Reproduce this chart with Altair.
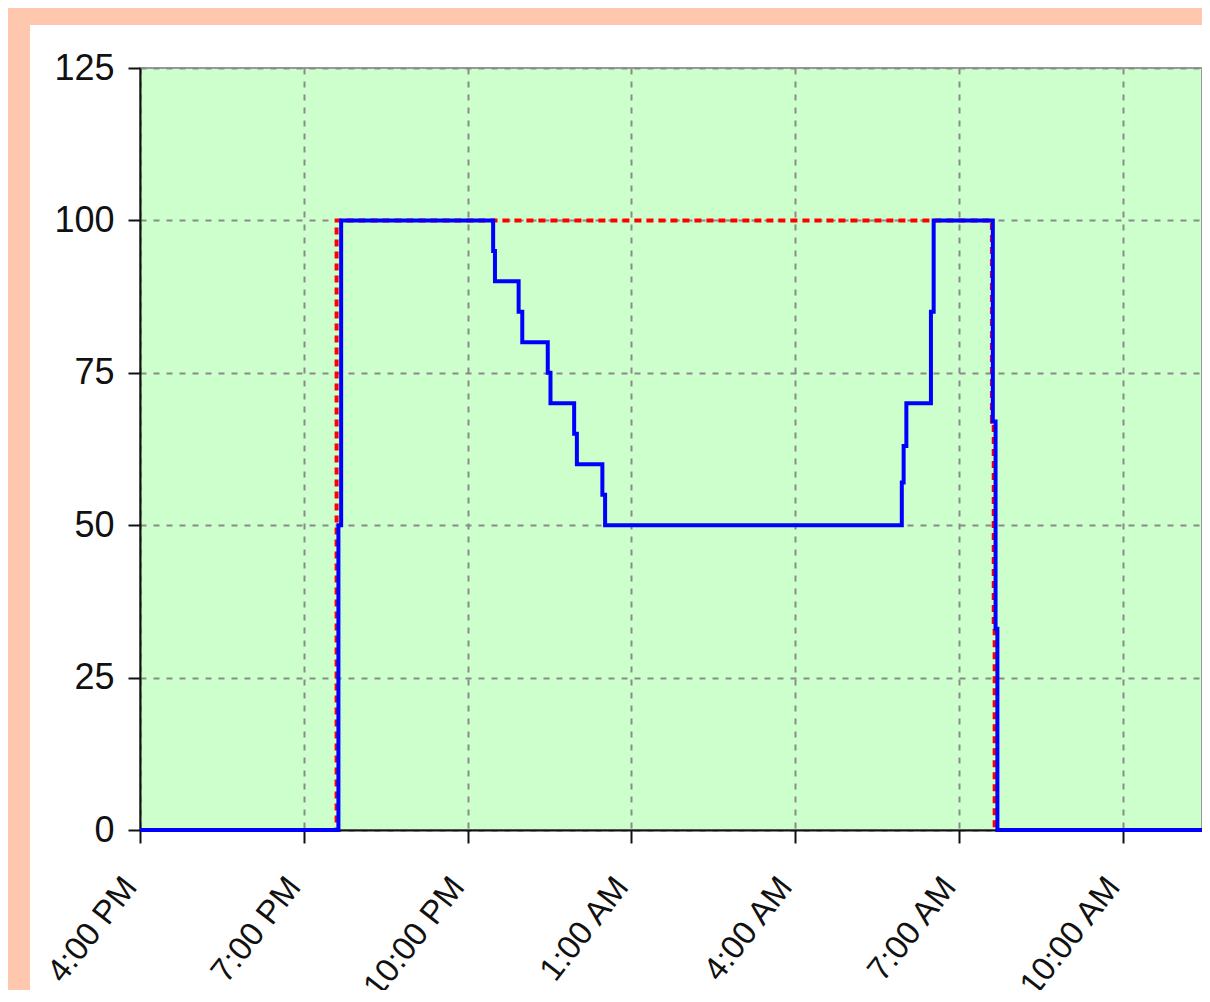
import altair as alt
import pandas as pd

# ---- data ----
blue_times = [
    "2024-01-01T16:00:00", "2024-01-01T19:38:00", "2024-01-01T19:41:00",
    "2024-01-01T22:28:00", "2024-01-01T22:30:00", "2024-01-01T22:56:00",
    "2024-01-01T23:00:00", "2024-01-01T23:28:00", "2024-01-01T23:31:00",
    "2024-01-01T23:57:00", "2024-01-02T00:00:00", "2024-01-02T00:28:00",
    "2024-01-02T00:31:00", "2024-01-02T05:57:00", "2024-01-02T05:59:00",
    "2024-01-02T06:02:00", "2024-01-02T06:29:00", "2024-01-02T06:32:00",
    "2024-01-02T07:37:00", "2024-01-02T07:40:00", "2024-01-02T07:42:00",
    "2024-01-02T11:26:49",
]
blue_values = [0, 50, 100, 95, 90, 85, 80, 75, 70, 65, 60, 55, 50,
               57, 63, 70, 85, 100, 67, 33, 0, 0]

red_times = [
    "2024-01-01T16:00:00", "2024-01-01T19:36:00", "2024-01-02T07:36:00",
    "2024-01-02T07:38:00", "2024-01-02T07:39:00", "2024-01-02T11:26:49",
]
red_values = [0, 100, 67, 33, 0, 0]

y_ticks = [0, 25, 50, 75, 100, 125]
x_tick_hours = [(1, 16), (1, 19), (1, 22), (2, 1), (2, 4), (2, 7), (2, 10)]

blue_df = pd.DataFrame({"time": blue_times, "value": blue_values})
red_df = pd.DataFrame({"time": red_times, "value": red_values})

FONT = "Liberation Sans, Arial, sans-serif"

x_domain = [
    alt.DateTime(year=2024, month=1, date=1, hours=16),
    alt.DateTime(year=2024, month=1, date=2, hours=11, minutes=26, seconds=49),
]
x_values = [alt.DateTime(year=2024, month=1, date=d, hours=h) for d, h in x_tick_hours]

x_enc = alt.X(
    "time:T",
    scale=alt.Scale(domain=x_domain),
    axis=alt.Axis(
        values=x_values, format="%-I:%M %p", title=None,
        labelAngle=308, labelAlign="right", labelBaseline="middle",
        labelPadding=38, labelOffset=-10, labelFontSize=33, labelFont=FONT,
        labelColor="#111111",
        tickSize=13, tickColor="#111111", tickWidth=2,
        domainColor="#111111", domainWidth=2,
        grid=True, gridColor="#8a8a8a", gridDash=[6, 7], gridWidth=2,
        labelOverlap=False,
    ),
)
y_enc = alt.Y(
    "value:Q",
    scale=alt.Scale(domain=[0, 125], nice=False),
    axis=alt.Axis(
        values=y_ticks, title=None,
        labelPadding=14, labelFontSize=36, labelFont=FONT, labelColor="#111111",
        tickSize=12, tickColor="#111111", tickWidth=2,
        domainColor="#111111", domainWidth=2,
        grid=True, gridColor="#8a8a8a", gridDash=[6, 7], gridWidth=2,
    ),
)

one = pd.DataFrame({"a": [0]})
left_strip = alt.Chart(one).mark_rect(color="#FFC8AE", clip=False).encode(
    x=alt.value(-140), x2=alt.value(-110), y=alt.value(-70), y2=alt.value(1100)
)
top_strip = alt.Chart(one).mark_rect(color="#FFC8AE", clip=False).encode(
    x=alt.value(-140), x2=alt.value(1300), y=alt.value(-70), y2=alt.value(-43)
)

red = alt.Chart(red_df).mark_line(
    color="#FF0000", strokeWidth=4, strokeDash=[7, 5], interpolate="step-after"
).encode(x=x_enc, y=y_enc)

blue = alt.Chart(blue_df).mark_line(
    color="#0000FF", strokeWidth=4, interpolate="step-after"
).encode(x=x_enc, y=y_enc)

chart = alt.layer(left_strip, top_strip, red, blue).properties(
    width=1062, height=762,
    padding={"left": 132, "top": 60, "right": 0, "bottom": 160},
    autosize=alt.AutoSizeParams(type="none"),
    background="white",
).configure_view(
    stroke="#999999", strokeWidth=2, fill="#CCFFCC"
)

chart.save("out.html", embed_options={"renderer": "svg", "actions": False})
